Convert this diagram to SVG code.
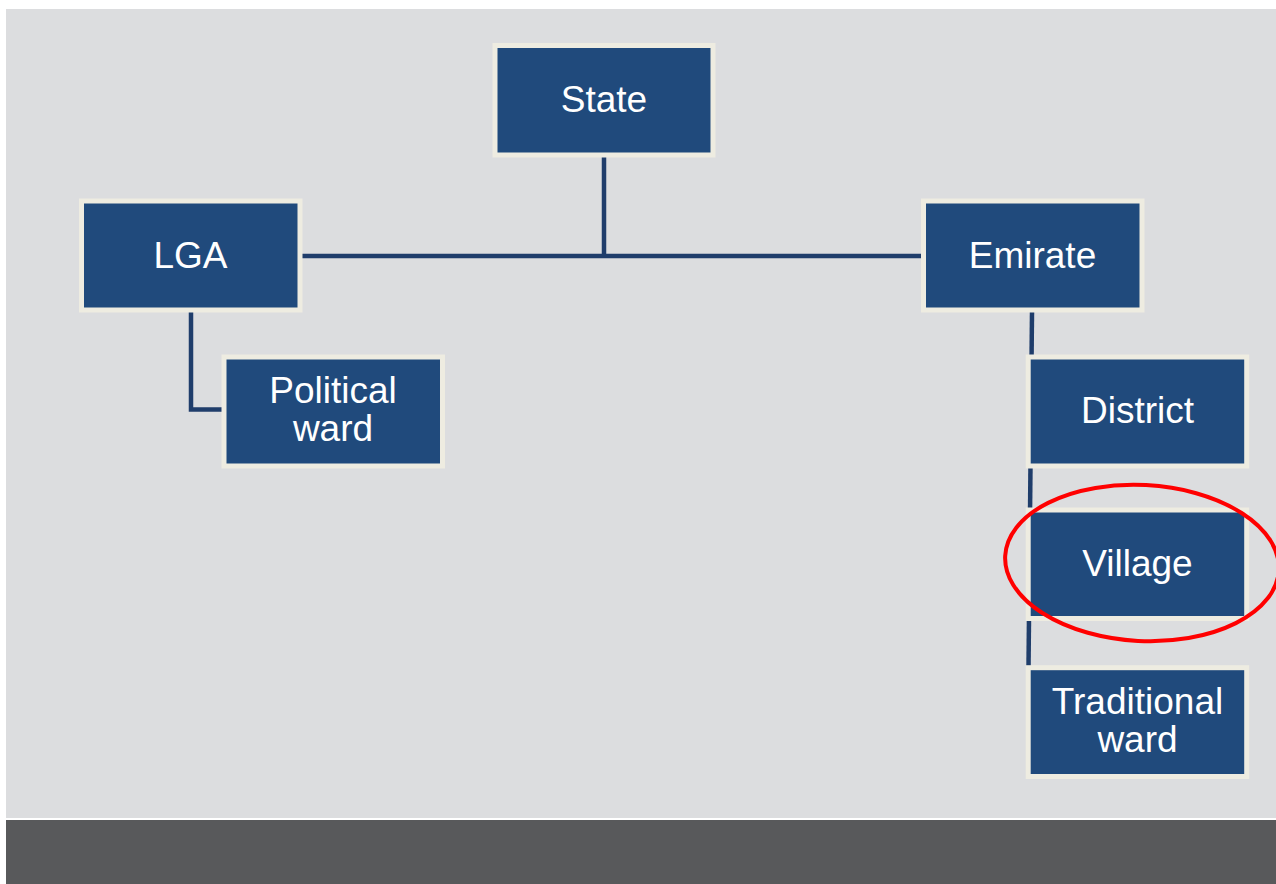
<svg xmlns="http://www.w3.org/2000/svg" width="1276" height="884" viewBox="0 0 1276 884">
<style>
.box{fill:#204A7C;stroke:#EEECE1;stroke-width:5;}
.lbl{font-family:"Liberation Sans",Arial,sans-serif;font-size:37px;fill:#FFFFFF;text-anchor:middle;}
.conn{stroke:#1F3D6B;stroke-width:4.5;fill:none;}
</style>
<rect x="0" y="0" width="1276" height="884" fill="#FFFFFF"/>
<rect x="6" y="9" width="1270" height="809" fill="#DCDDDF"/>
<rect x="6" y="820" width="1270" height="64" fill="#58595B"/>
<g id="connectors">
<line class="conn" x1="604" y1="157" x2="604" y2="256"/>
<line class="conn" x1="301" y1="256" x2="922" y2="256"/>
<polyline class="conn" points="191,312 191,409.5 225,409.5"/>
<line class="conn" x1="1032" y1="312" x2="1028.5" y2="668"/>
</g>
<g id="state"><rect class="box" x="495" y="45.5" width="218" height="109.5"/><text class="lbl" x="604" y="112">State</text></g>
<g id="lga"><rect class="box" x="81.5" y="201" width="218.5" height="109"/><text class="lbl" x="190.5" y="267.5">LGA</text></g>
<g id="political-ward"><rect class="box" x="224" y="357" width="218.5" height="109"/><text class="lbl" x="333" y="402.5">Political</text><text class="lbl" x="333" y="440.5">ward</text></g>
<g id="emirate"><rect class="box" x="923.5" y="201" width="218.5" height="109"/><text class="lbl" x="1032.5" y="267.5">Emirate</text></g>
<g id="district"><rect class="box" x="1028.2" y="357" width="218.5" height="109"/><text class="lbl" x="1137.5" y="422.5">District</text></g>
<g id="village"><rect class="box" x="1028.2" y="510" width="218.5" height="108.5"/><text class="lbl" x="1137.5" y="576">Village</text></g>
<g id="traditional-ward"><rect class="box" x="1028.2" y="667.7" width="218.5" height="108.8"/><text class="lbl" x="1137.5" y="713.5">Traditional</text><text class="lbl" x="1137.5" y="751.5">ward</text></g>
<g id="highlight"><ellipse cx="1142" cy="563" rx="137" ry="78" transform="rotate(3 1142 563)" fill="none" stroke="#FF0000" stroke-width="4"/></g>
</svg>
